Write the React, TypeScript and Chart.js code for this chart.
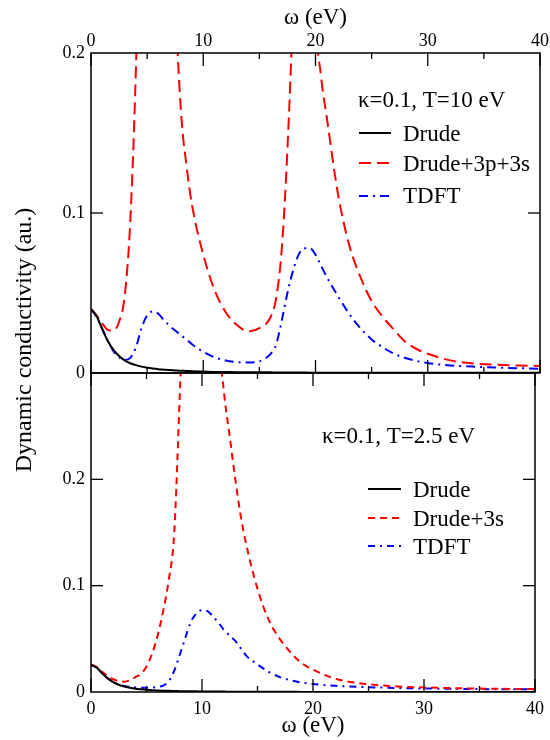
import React, { useEffect, useRef } from "react";
import { Chart, registerables } from "chart.js";

Chart.register(...registerables);

const FONT = "'Liberation Serif', 'DejaVu Serif', 'Noto Serif', 'Times New Roman', Times, serif";

// ---- Top panel (kappa=0.1, T=10 eV) ----
const topOmega = [0, 0.5, 1, 1.5, 2, 2.5, 3, 3.5, 4, 4.5, 5, 5.5, 6, 6.5, 7, 7.5, 8, 8.5, 9, 10, 11, 12, 13, 14, 15, 16, 16.5, 17, 17.5, 18, 18.5, 19, 19.5, 20, 20.5, 21, 22, 23, 24, 25, 26, 27, 28, 29, 30, 32, 34, 36, 38, 40];
const topDrude = [0.04, 0.0355, 0.0276, 0.02, 0.0144, 0.0106, 0.0079, 0.0061, 0.0049, 0.004, 0.0033, 0.0028, 0.0024, 0.0021, 0.0018, 0.0016, 0.0014, 0.0013, 0.0011, 0.0009, 0.0007, 0.0006, 0.0005, 0.0005, 0.0004, 0.0004, 0.0003, 0.0003, 0.0003, 0.0003, 0.0003, 0.0003, 0.0002, 0.0002, 0.0002, 0.0002, 0.0002, 0.0002, 0.0002, 0.0002, 0.0001, 0.0001, 0.0001, 0.0001, 0.0001, 0.0001, 0.0001, 0.0001, 0.0001, 0.0001];
const topDrude3p3s = [0.04, 0.036, 0.031, 0.027, 0.0265, 0.032, 0.048, 0.095, 0.19, 0.34, 0.55, 0.72, 0.74, 0.58, 0.38, 0.24, 0.165, 0.13, 0.105, 0.074, 0.052, 0.038, 0.03, 0.026, 0.028, 0.035, 0.047, 0.078, 0.14, 0.23, 0.36, 0.46, 0.4, 0.23, 0.185, 0.16, 0.112, 0.08, 0.06, 0.045, 0.035, 0.027, 0.0195, 0.015, 0.012, 0.0079, 0.006, 0.0052, 0.0047, 0.0044];
const topTDFT = [0.04, 0.035, 0.0275, 0.02, 0.0137, 0.0098, 0.0082, 0.0095, 0.016, 0.028, 0.036, 0.0385, 0.037, 0.033, 0.0295, 0.0265, 0.0237, 0.021, 0.018, 0.0133, 0.0099, 0.0078, 0.0068, 0.0065, 0.0073, 0.012, 0.018, 0.033, 0.05, 0.064, 0.074, 0.078, 0.078, 0.074, 0.067, 0.06, 0.048, 0.037, 0.028, 0.021, 0.016, 0.012, 0.0094, 0.0075, 0.0062, 0.0047, 0.004, 0.0034, 0.003, 0.0027];

// ---- Bottom panel (kappa=0.1, T=2.5 eV) ----
const botOmega = [0, 0.5, 1, 1.5, 2, 2.5, 3, 3.5, 4, 4.5, 5, 5.5, 6, 6.5, 7, 7.5, 8, 8.5, 9, 9.5, 10, 10.5, 11, 11.5, 12, 12.5, 13, 13.5, 14, 15, 16, 17, 18, 19, 20, 22, 24, 26, 28, 30, 34, 40];
const botDrude = [0.0255, 0.023, 0.0177, 0.0128, 0.0093, 0.0068, 0.0051, 0.004, 0.0031, 0.0025, 0.002, 0.0017, 0.0014, 0.0012, 0.0011, 0.0009, 0.0008, 0.0007, 0.0006, 0.0006, 0.0005, 0.0005, 0.0004, 0.0004, 0.0004, 0.0003, 0.0003, 0.0003, 0.0003, 0.0002, 0.0002, 0.0002, 0.0002, 0.0001, 0.0001, 0.0001, 0.0001, 0.0001, 0.0001, 0.0001, 0.0001, 0.0001];
const botDrude3s = [0.0258, 0.0236, 0.019, 0.015, 0.012, 0.0103, 0.0097, 0.011, 0.014, 0.017, 0.024, 0.036, 0.053, 0.076, 0.105, 0.15, 0.28, 0.42, 0.55, 0.61, 0.62, 0.58, 0.48, 0.34, 0.28, 0.24, 0.2, 0.165, 0.138, 0.097, 0.068, 0.05, 0.037, 0.027, 0.021, 0.0125, 0.0085, 0.0063, 0.005, 0.0043, 0.0034, 0.0027];
const botTDFT = [0.0255, 0.023, 0.0178, 0.013, 0.0096, 0.0072, 0.0057, 0.0048, 0.0043, 0.004, 0.004, 0.0042, 0.0047, 0.006, 0.01, 0.02, 0.035, 0.051, 0.066, 0.074, 0.077, 0.076, 0.071, 0.065, 0.058, 0.053, 0.048, 0.041, 0.034, 0.026, 0.019, 0.014, 0.011, 0.0088, 0.0075, 0.0058, 0.0048, 0.0042, 0.0037, 0.0033, 0.0028, 0.0025];

// ---- Axes / text ----
const xMajorTicks = [0, 10, 20, 30, 40];
const xMinorTicks = [5, 15, 25, 35];
const topYMajor = [0.1];
const botYMajor = [0.1, 0.2];
const topHeader = "κ=0.1, T=10 eV";
const botHeader = "κ=0.1, T=2.5 eV";
const topLabels = ["Drude", "Drude+3p+3s", "TDFT"];
const botLabels = ["Drude", "Drude+3s", "TDFT"];
const xTitle = "ω (eV)";
const yTitle = "Dynamic conductivity (au.)";

const W = 550;
const H = 740;
const PLOT_LEFT = 91;
const PLOT_RIGHT = 541;
const MID = 373;
const BOTTOM = 692;

function pts(xs: number[], ys: number[]) {
  return xs.map((x, i) => ({ x, y: ys[i] }));
}

function fmtY(v: number) {
  if (Math.abs(v) < 1e-9) return "0";
  return String(Number(v.toFixed(2)));
}

type Legend = {
  header: string;
  headerX: number;
  headerY: number;
  lineX0: number;
  lineX1: number;
  textX: number;
  rows: { lineY: number; textY: number }[];
};

function makeDecor(yMajor: number[], legend: Legend, drawYTitle: boolean) {
  return {
    id: "decor",
    afterDatasetsDraw(chart: any) {
      const ctx = chart.ctx as CanvasRenderingContext2D;
      const a = chart.chartArea;
      const xs = chart.scales.x;
      const ys = chart.scales.y;
      ctx.save();
      ctx.strokeStyle = "#000";
      ctx.lineWidth = 1.5;
      ctx.setLineDash([]);
      ctx.strokeRect(a.left, a.top, a.right - a.left, a.bottom - a.top);
      const tick = (x0: number, y0: number, x1: number, y1: number) => {
        ctx.beginPath();
        ctx.moveTo(x0, y0);
        ctx.lineTo(x1, y1);
        ctx.stroke();
      };
      ctx.lineWidth = 1.3;
      for (const v of xMajorTicks) {
        const px = xs.getPixelForValue(v);
        tick(px, a.top, px, a.top + 13);
        tick(px, a.bottom, px, a.bottom - 13);
      }
      for (const v of xMinorTicks) {
        const px = xs.getPixelForValue(v);
        tick(px, a.top, px, a.top + 6);
        tick(px, a.bottom, px, a.bottom - 6);
      }
      for (const v of yMajor) {
        const py = ys.getPixelForValue(v);
        tick(a.left, py, a.left + 12, py);
        tick(a.right, py, a.right - 12, py);
      }
      // legend
      ctx.fillStyle = "#000";
      ctx.font = `23px ${FONT}`;
      ctx.textAlign = "left";
      ctx.textBaseline = "alphabetic";
      ctx.fillText(legend.header, legend.headerX, legend.headerY);
      chart.data.datasets.forEach((ds: any, i: number) => {
        const r = legend.rows[i];
        ctx.save();
        ctx.strokeStyle = ds.borderColor;
        ctx.lineWidth = 2;
        ctx.setLineDash(ds.borderDash || []);
        ctx.beginPath();
        ctx.moveTo(legend.lineX0, r.lineY);
        ctx.lineTo(legend.lineX1, r.lineY);
        ctx.stroke();
        ctx.restore();
        ctx.fillText(ds.label, legend.textX, r.textY);
      });
      if (drawYTitle) {
        ctx.save();
        ctx.translate(25, 340);
        ctx.rotate(-Math.PI / 2);
        ctx.font = `24px ${FONT}`;
        ctx.textAlign = "center";
        ctx.textBaseline = "middle";
        ctx.fillText(yTitle, 0, 0);
        ctx.restore();
      }
      ctx.restore();
    },
  };
}

function makeConfig(isTop: boolean): any {
  const omega = isTop ? topOmega : botOmega;
  const labels = isTop ? topLabels : botLabels;
  const series = isTop ? [topDrude, topDrude3p3s, topTDFT] : [botDrude, botDrude3s, botTDFT];
  const dashes = isTop
    ? [[], [12, 6], [9, 5, 2, 5]]
    : [[], [7, 5], [7, 5, 2, 5]];
  const colors = ["#000000", "#ff0000", "#0000ff"];
  const datasets = series.map((ys, i) => ({
    label: labels[i],
    data: pts(omega, ys),
    borderColor: colors[i],
    borderWidth: 2,
    borderDash: dashes[i],
    pointRadius: 0,
    fill: false,
    cubicInterpolationMode: "monotone",
  }));
  const legend: Legend = isTop
    ? {
        header: topHeader,
        headerX: 358,
        headerY: 107,
        lineX0: 359,
        lineX1: 391,
        textX: 403,
        rows: [
          { lineY: 133, textY: 141 },
          { lineY: 163, textY: 171 },
          { lineY: 196, textY: 203 },
        ],
      }
    : {
        header: botHeader,
        headerX: 322,
        headerY: 443,
        lineX0: 368,
        lineX1: 401,
        textX: 413,
        rows: [
          { lineY: 489, textY: 497 },
          { lineY: 518, textY: 526 },
          { lineY: 546, textY: 554 },
        ],
      };
  const tickFont = { family: FONT, size: 18 };
  const titleFont = { family: FONT, size: 23 };
  return {
    type: "line",
    data: { datasets },
    options: {
      responsive: false,
      animation: false,
      devicePixelRatio: 1,
      layout: {
        padding: isTop
          ? { left: 0, right: W - PLOT_RIGHT, top: 0, bottom: H - MID }
          : { left: 0, right: W - PLOT_RIGHT, top: MID, bottom: 0 },
      },
      plugins: { legend: { display: false }, tooltip: { enabled: false } },
      scales: {
        x: {
          type: "linear",
          position: isTop ? "top" : "bottom",
          min: 0,
          max: 40,
          grid: { display: false, drawTicks: false },
          border: { display: false },
          ticks: {
            stepSize: 10,
            font: tickFont,
            color: "#000",
            padding: isTop ? 1 : 6,
            maxRotation: 0,
            autoSkip: false,
          },
          title: {
            display: true,
            text: xTitle,
            font: titleFont,
            color: "#000",
            padding: isTop ? { top: 4, bottom: 0 } : { top: 0, bottom: 0 },
          },
          afterFit: (s: any) => {
            s.height = isTop ? 53 : H - BOTTOM;
          },
        },
        y: {
          type: "linear",
          position: "left",
          min: 0,
          max: isTop ? 0.2 : 0.3,
          grid: { display: false, drawTicks: false },
          border: { display: false },
          ticks: {
            stepSize: 0.1,
            font: tickFont,
            color: "#000",
            padding: 6,
            callback: (v: number) => (!isTop && v > 0.25 ? "" : fmtY(v)),
          },
          afterFit: (s: any) => {
            s.width = PLOT_LEFT;
          },
        },
      },
    },
    plugins: [makeDecor(isTop ? topYMajor : botYMajor, legend, isTop)],
  };
}

export default function App() {
  const topRef = useRef<HTMLCanvasElement | null>(null);
  const botRef = useRef<HTMLCanvasElement | null>(null);
  useEffect(() => {
    const c1 = new Chart(topRef.current as HTMLCanvasElement, makeConfig(true));
    const c2 = new Chart(botRef.current as HTMLCanvasElement, makeConfig(false));
    return () => {
      c1.destroy();
      c2.destroy();
    };
  }, []);
  const cstyle: React.CSSProperties = { position: "absolute", left: 0, top: 0, width: W, height: H };
  return (
    <div style={{ position: "absolute", left: 0, top: 0, width: W, height: H, background: "#fff" }}>
      <canvas ref={botRef} width={W} height={H} style={cstyle} />
      <canvas ref={topRef} width={W} height={H} style={cstyle} />
    </div>
  );
}
